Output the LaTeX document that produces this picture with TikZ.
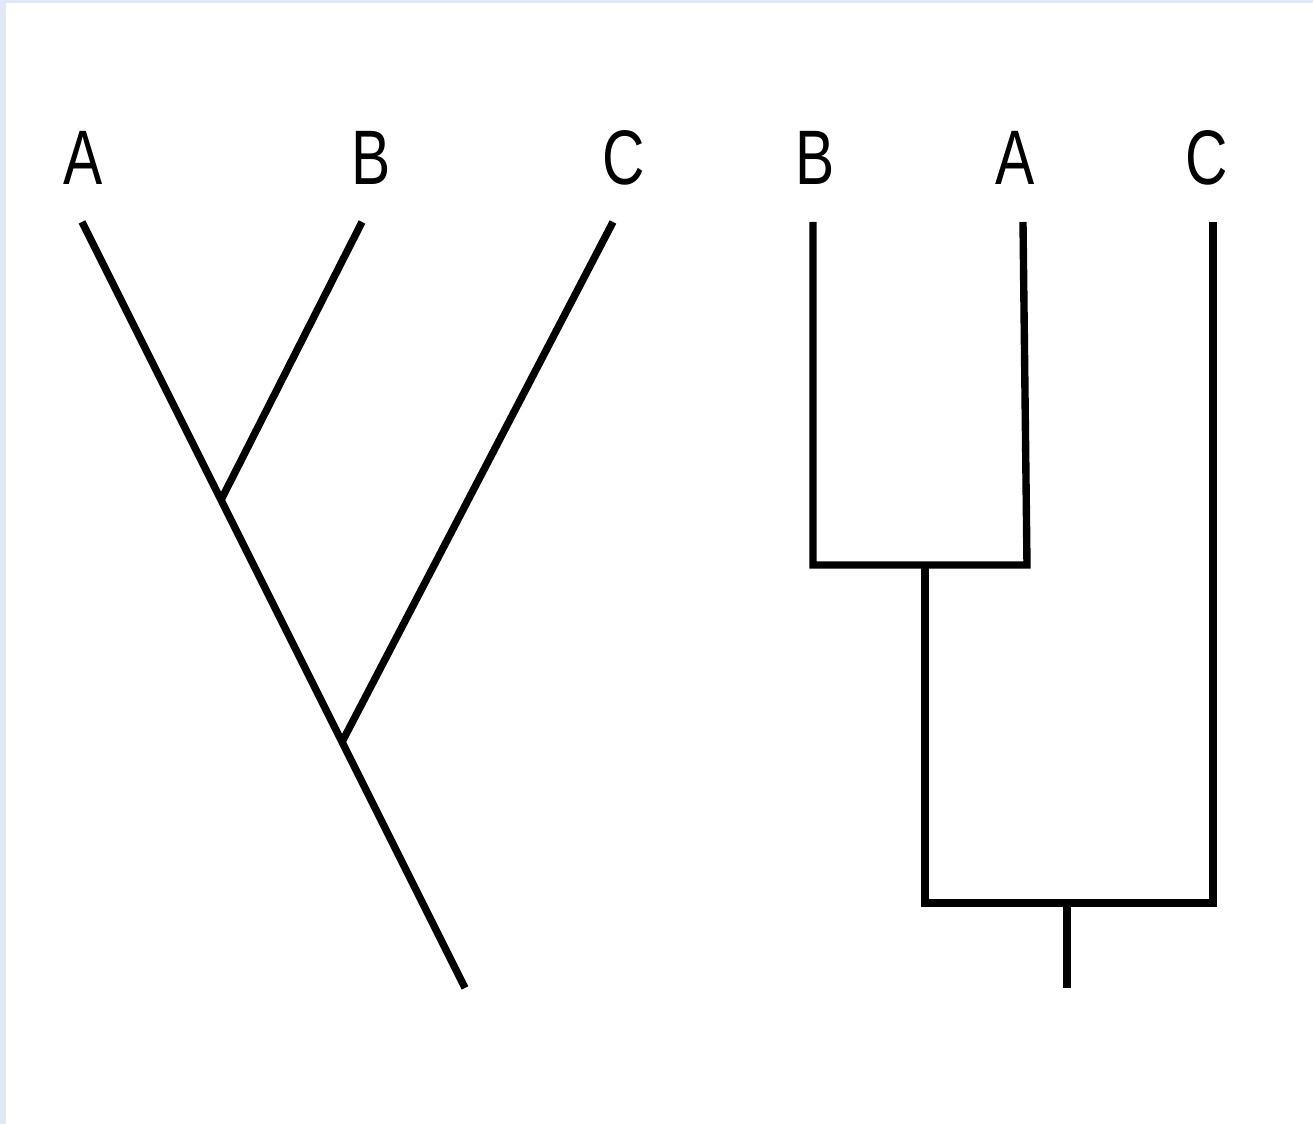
\documentclass[tikz,border=0pt]{standalone}
\usepackage{fontspec}
\setmainfont{Liberation Sans}[FakeStretch=0.76]
\definecolor{framebg}{HTML}{E1E7F5}

\begin{document}
\begin{tikzpicture}[x=0.02cm, y=-0.02cm, line width=4.2pt, line join=miter,
    leaf/.style={font=\fontsize{44}{48}\selectfont, inner sep=0pt}]
  % page and frame
  \fill[framebg] (0,0) rectangle (1313,1124);
  \fill[white] (6,3) rectangle (1313,1124);

  % left tree: slanted branches
  \node[leaf] (lA) at (83,158) {A};
  \node[leaf] (lB) at (371,158) {B};
  \node[leaf] (lC) at (624,158) {C};
  \coordinate (tA) at (82,222);
  \coordinate (tB) at (362,222);
  \coordinate (tC) at (613,222);
  \coordinate (jAB) at (221,500);
  \coordinate (jABC) at (342,742);
  \coordinate (root) at (465,988);
  \draw (tA) -- (root);
  \draw (tB) -- (jAB);
  \draw (tC) -- (jABC);

  % right tree: square branches
  \node[leaf] (rB) at (815,158) {B};
  \node[leaf] (rA) at (1015,158) {A};
  \node[leaf] (rC) at (1207,158) {C};
  \coordinate (sB) at (813,222);
  \coordinate (sA) at (1023,222);
  \coordinate (sC) at (1213,222);
  \coordinate (kB) at (813,565);
  \coordinate (kA) at (1027,565);
  \coordinate (kBA) at (925,565);
  \coordinate (mBA) at (925,903);
  \coordinate (mC) at (1213,903);
  \coordinate (mR) at (1067,903);
  \coordinate (sroot) at (1067,988);
  \draw (sB) -- (kB) -- (kA) -- (sA);
  \draw (kBA) -- (mBA) -- (mC) -- (sC);
  \draw (mR) -- (sroot);
\end{tikzpicture}
\end{document}
